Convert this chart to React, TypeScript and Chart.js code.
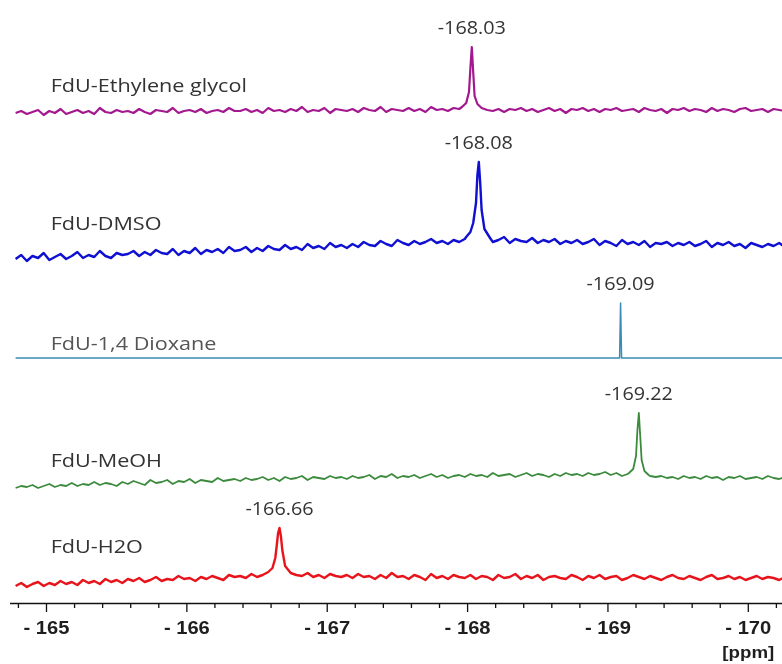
import React, { useEffect, useRef } from "react";
import { Chart, registerables } from "chart.js";
Chart.register(...registerables);

// ---- data ----
const SERIES_NAMES = ["FdU-Ethylene glycol", "FdU-DMSO", "FdU-1,4 Dioxane", "FdU-MeOH", "FdU-H2O"];
const PEAK_SHIFTS = [-168.03, -168.08, -169.09, -169.22, -166.66];
const X_TICK_MAJOR = [-165, -166, -167, -168, -169, -170];
const X_UNIT = "[ppm]";

// baseline sampling: first ppm and spacing of the recorded baseline values
const BASE_START_PPM = -164.78;
const BASE_SPACING = 0.04;

const EG_BASE = [
  -3, -1, -4, -2, 0, -5, -1, -3, 1, -4, -2, 0, -3, -1, -4, 2, -2, -3, 0, -2,
  -1, -3, 1, -2, -4, 0, -1, -2, 2, -3, -1, 0, -2, 1, -3, -1, 0, -2, 2, -1,
  -1, 1, -2, 0, -3, 2, -1, 0, -2, 1, -1, 3, -2, 0, -1, 2, -3, 1, 0, -1,
  1, -2, 2, 0, -1, 3, -2, 1, 0, -1, 2, -1, 1, -2, 3, 0, 1, -1, 2, 1,
  0, 2, 1, 3, 0, -1, 1, -2, 1, 0, 2, -1, 1, -2, 0, 2, -1, 1, -3, 1,
  0, 2, -1, 1, -2, 1, 0, 2, -1, 0, 1, -2, 2, 0, -1, 1, -3, 1, 0, 2,
  -1, 1, 0, -2, 2, -1, 1, 0, -2, 1, 2, -1, 0, 1, -2, 1, 0, -1, 1,
];
const EG_PEAK_PPM = [-167.96, -167.99, -168.01, -168.02, -168.03, -168.04, -168.05, -168.07, -168.1];
const EG_PEAK = [3, 7, 18, 42, 63, 38, 14, 6, 2];

const DMSO_BASE = [
  -14, -10, -16, -11, -13, -8, -15, -12, -9, -14, -11, -7, -13, -10, -12, -6, -11, -13, -8, -10,
  -9, -6, -11, -7, -10, -5, -8, -9, -4, -10, -6, -8, -3, -9, -5, -7, -4, -8, -2, -6,
  -5, -2, -7, -3, -6, -1, -4, -5, 0, -4, -2, -5, 1, -3, -1, -4, 2, -2, 0, -3,
  1, -2, 3, 0, -1, 4, 1, -1, 5, 2, 0, 4, 1, 3, 6, 2, 4, 1, 5, 3,
  6, 4, 7, 5, 6, 3, 5, 8, 2, 6, 4, 3, 7, 2, 5, 3, 6, 1, 4, 2,
  5, 1, 3, 6, 0, 4, 2, -1, 5, 1, 3, 0, 4, -2, 2, 1, 3, -1, 2, 0,
  3, -1, 1, 4, -2, 2, 0, 3, -1, 1, -3, 2, 0, -2, 1, -1, 2, -2, 0,
];
const DMSO_PEAK_PPM = [-167.99, -168.02, -168.04, -168.06, -168.07, -168.08, -168.09, -168.1, -168.12, -168.16];
const DMSO_PEAK = [8, 13, 22, 42, 70, 83, 62, 35, 16, 7];

const DIOX_LINE_PPM = [-164.78, -170.24];
const DIOX_LINE = [0, 0];
const DIOX_PEAK_PPM = [-169.083, -169.09, -169.097];
const DIOX_PEAK = [0, 55, 0];

const MEOH_BASE = [
  -10, -8, -9, -7, -10, -8, -6, -9, -7, -8, -5, -8, -6, -7, -4, -7, -5, -6, -8, -4,
  -6, -3, -5, -7, -2, -5, -4, -2, -6, -3, -4, -1, -5, -2, -3, -4, 0, -3, -2, -1,
  -3, 0, -2, -1, 1, -2, 0, -3, 1, -1, 0, 2, -2, 1, 0, -1, 2, 0, 1, -1,
  2, 0, 1, 3, -1, 2, 1, 4, 0, 2, 1, 3, 0, 2, 4, 1, 3, 0, 2, 3,
  1, 4, 2, 3, 1, 5, 2, 3, 4, 1, 3, 5, 2, 4, 3, 1, 4, 2, 5, 3,
  4, 2, 5, 3, 4, 6, 3, 5, 2, 4, 3, 5, 4, 2, 1, 2, 0, 1, -1, 2,
  0, 1, -1, 2, 0, 1, -2, 1, 0, 2, -1, 0, 1, -1, 2, 0, -1, 1, 0,
];
const MEOH_PEAK_PPM = [-169.15, -169.18, -169.2, -169.21, -169.22, -169.23, -169.24, -169.26, -169.29];
const MEOH_PEAK = [5, 9, 22, 48, 65, 42, 18, 7, 3];

const H2O_BASE = [
  -8, -5, -9, -6, -4, -8, -5, -7, -3, -6, -4, -7, -2, -5, -3, -6, -1, -4, -2, -5,
  -1, -3, 0, -4, -2, 1, -3, -1, -2, 2, -1, 0, -3, 1, -1, 2, 0, -2, 3, 1,
  2, 0, 4, 1, 3, 5, 4, 6, 5, 4, 3, 2, 5, 1, 3, 0, 4, 2, 1, 3,
  0, 4, 1, 2, -1, 3, 0, 5, 1, 2, -1, 3, 1, -2, 4, 0, 2, -1, 3, 1,
  0, 3, -1, 2, 1, -2, 3, 0, 1, 4, -1, 2, 0, 3, -2, 1, 2, 0, -1, 3,
  1, -2, 2, 0, 3, -1, 1, 2, -2, 0, 3, 1, -1, 2, 0, -2, 1, 3, 0, -1,
  2, 0, -2, 1, 3, -1, 0, 2, -1, 1, -2, 0, 2, -1, 1, 0, -2, 1, 0,
];
const H2O_PEAK_PPM = [-166.58, -166.61, -166.63, -166.64, -166.65, -166.66, -166.67, -166.68, -166.7, -166.74];
const H2O_PEAK = [6, 10, 20, 32, 45, 50, 42, 28, 12, 5];

// ---- layout / style ----
const COLORS = ["#a3188f", "#1010d2", "#3b8cb3", "#3c8a3c", "#e8141c"];
const WIDTHS = [2.2, 2.4, 1.5, 1.8, 2.4];
const STACK_OFFSETS = [493, 358, 245, 125, 25];
const NAME_LABEL_Y = [516, 378, 258, 141, 55];
const NAME_LABEL_PPM = -165.03;
const NAME_COLORS = ["#333333", "#333333", "#555555", "#333333", "#333333"];
const PEAK_LABEL_GAP = 18;
const X_MIN = -170.24;
const X_MAX = -164.74;
const PLOT_HEIGHT = 603;
const AXIS_BAND = 61;

function sampledBaseline(values: number[]) {
  return values.map((v, i) => ({ ppm: BASE_START_PPM - BASE_SPACING * i, v }));
}

function withPeak(base: { ppm: number; v: number }[], peakPpm: number[], peak: number[]) {
  const hi = Math.max(...peakPpm);
  const lo = Math.min(...peakPpm);
  const kept = base.filter((p) => p.ppm > hi || p.ppm < lo);
  const added = peakPpm.map((ppm, i) => ({ ppm, v: peak[i] }));
  return kept.concat(added).sort((a, b) => b.ppm - a.ppm);
}

const TRACES = [
  withPeak(sampledBaseline(EG_BASE), EG_PEAK_PPM, EG_PEAK),
  withPeak(sampledBaseline(DMSO_BASE), DMSO_PEAK_PPM, DMSO_PEAK),
  withPeak(DIOX_LINE_PPM.map((ppm, i) => ({ ppm, v: DIOX_LINE[i] })), DIOX_PEAK_PPM, DIOX_PEAK),
  withPeak(sampledBaseline(MEOH_BASE), MEOH_PEAK_PPM, MEOH_PEAK),
  withPeak(sampledBaseline(H2O_BASE), H2O_PEAK_PPM, H2O_PEAK),
];
const PEAK_MAX = [EG_PEAK, DMSO_PEAK, DIOX_PEAK, MEOH_PEAK, H2O_PEAK].map((a) => Math.max(...a));

function stretchedText(ctx: CanvasRenderingContext2D, text: string, x: number, y: number, font: string, color: string, align: CanvasTextAlign, sx: number) {
  ctx.save();
  ctx.translate(x, y);
  ctx.scale(sx, 1);
  ctx.font = font;
  ctx.fillStyle = color;
  ctx.textAlign = align;
  ctx.textBaseline = "middle";
  ctx.fillText(text, 0, 0);
  ctx.restore();
}

const overlayPlugin = {
  id: "nmrOverlay",
  afterDatasetsDraw(chart: any) {
    const ctx: CanvasRenderingContext2D = chart.ctx;
    const xs = chart.scales.x;
    const ys = chart.scales.y;
    const { left, right, bottom } = chart.chartArea;
    ctx.save();
    // axis line
    ctx.strokeStyle = "#111";
    ctx.lineWidth = 1.5;
    ctx.beginPath();
    ctx.moveTo(left, bottom + 0.5);
    ctx.lineTo(right, bottom + 0.5);
    ctx.stroke();
    // ticks
    ctx.lineWidth = 1.3;
    xs.ticks.forEach((t: any) => {
      const px = xs.getPixelForValue(t.value);
      const major = X_TICK_MAJOR.some((m) => Math.abs(m - t.value) < 1e-6);
      ctx.beginPath();
      ctx.moveTo(px, bottom);
      ctx.lineTo(px, bottom + (major ? 9 : 5));
      ctx.stroke();
    });
    X_TICK_MAJOR.forEach((m) => {
      const px = xs.getPixelForValue(m);
      stretchedText(ctx, "- " + Math.abs(m), px, bottom + 26, "bold 18px 'Liberation Sans', Arial, sans-serif", "#1e1e1e", "center", 1.12);
    });
    stretchedText(ctx, X_UNIT, xs.getPixelForValue(X_TICK_MAJOR[X_TICK_MAJOR.length - 1]), bottom + 50, "bold 17px 'Liberation Sans', Arial, sans-serif", "#1e1e1e", "center", 1.1);
    // series names and peak labels
    SERIES_NAMES.forEach((name, i) => {
      stretchedText(ctx, name, xs.getPixelForValue(NAME_LABEL_PPM), ys.getPixelForValue(NAME_LABEL_Y[i]), "18px 'Open Sans', sans-serif", NAME_COLORS[i], "left", 1.2);
      const top = STACK_OFFSETS[i] + PEAK_MAX[i] + PEAK_LABEL_GAP;
      stretchedText(ctx, PEAK_SHIFTS[i].toFixed(2), xs.getPixelForValue(PEAK_SHIFTS[i]), ys.getPixelForValue(top), "18px 'Open Sans', sans-serif", "#333333", "center", 1.1);
    });
    ctx.restore();
  },
};

export default function App() {
  const ref = useRef<HTMLCanvasElement | null>(null);
  useEffect(() => {
    document.body.style.margin = "0";
    const canvas = ref.current!;
    const chart = new Chart(canvas, {
      type: "scatter",
      data: {
        datasets: TRACES.map((tr, i) => ({
          label: SERIES_NAMES[i],
          data: tr.map((p) => ({ x: p.ppm, y: p.v + STACK_OFFSETS[i] })),
          showLine: true,
          borderColor: COLORS[i],
          backgroundColor: COLORS[i],
          borderWidth: WIDTHS[i],
          pointRadius: 0,
          tension: 0,
          borderJoinStyle: "round" as const,
        })),
      },
      options: {
        responsive: false,
        animation: false,
        devicePixelRatio: 1,
        layout: { padding: { left: 10, right: 0, top: 0, bottom: 0 } },
        plugins: { legend: { display: false }, tooltip: { enabled: false } },
        scales: {
          x: {
            type: "linear",
            min: X_MIN,
            max: X_MAX,
            reverse: true,
            grid: { display: false },
            border: { display: false },
            ticks: { display: false },
            afterBuildTicks: (scale: any) => {
              const ticks = [];
              for (let k = 824; k <= 851; k++) ticks.push({ value: -k / 5 });
              scale.ticks = ticks;
            },
            afterFit: (scale: any) => {
              scale.height = AXIS_BAND;
            },
          },
          y: {
            type: "linear",
            display: false,
            min: 0,
            max: PLOT_HEIGHT,
          },
        },
      },
      plugins: [overlayPlugin],
    });
    return () => chart.destroy();
  }, []);
  return (
    <div style={{ width: 782, height: 664, background: "#fff" }}>
      <canvas ref={ref} width={782} height={664} style={{ display: "block" }} />
    </div>
  );
}
